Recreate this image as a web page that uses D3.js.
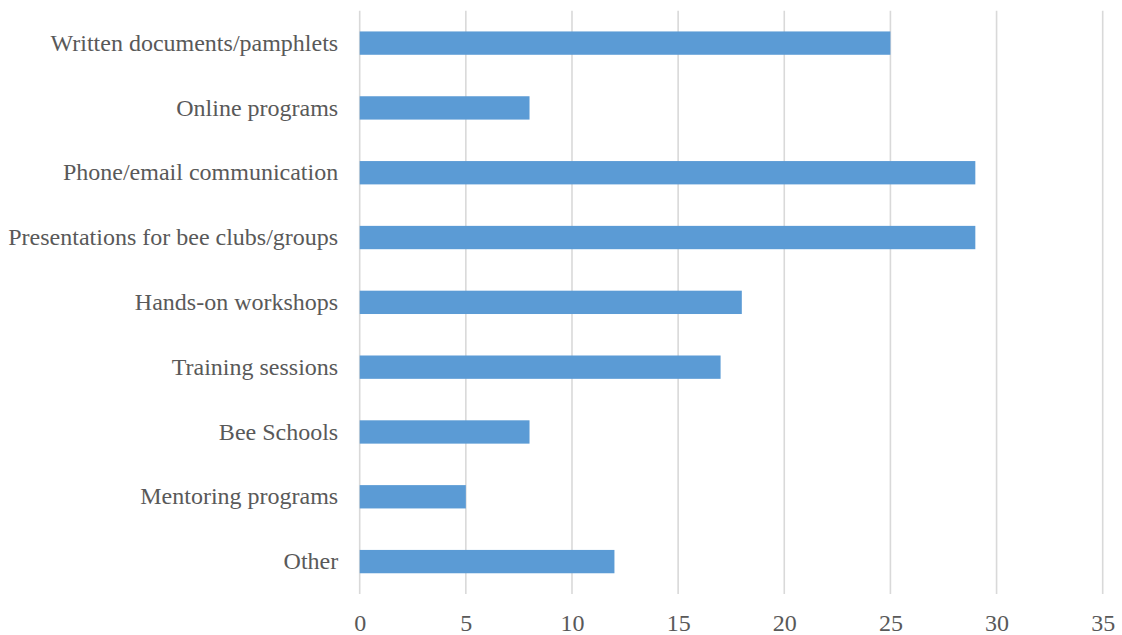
<!DOCTYPE html>
<html><head><meta charset="utf-8">
<script src="https://cdn.jsdelivr.net/npm/d3@7"></script>
<style>body{margin:0;background:#fff;} svg{display:block;} svg text{font-family:"Liberation Serif","Times New Roman","DejaVu Serif",serif !important;}</style>
</head><body>
<svg id="c" width="1122" height="635"></svg>
<script>
const categories = ["Written documents/pamphlets","Online programs","Phone/email communication","Presentations for bee clubs/groups","Hands-on workshops","Training sessions","Bee Schools","Mentoring programs","Other"];
const values = [25, 8, 29, 29, 18, 17, 8, 5, 12];
const xTicks = [0, 5, 10, 15, 20, 25, 30, 35];

(function () {
const svg = d3.select("#c");
const mLeft = 359.7, mRight = 1102.7, mTop = 10.7, mBottom = 594;
const x = d3.scaleLinear().domain([0, 35]).range([mLeft, mRight]);
const y = d3.scaleBand().domain(categories).range([mTop, mBottom]).paddingInner(0.64).paddingOuter(0.32);

const grid = svg.append("g");
grid.selectAll("line").data(xTicks).join("line")
  .attr("x1", d => x(d)).attr("x2", d => x(d))
  .attr("y1", mTop).attr("y2", mBottom)
  .attr("stroke", "#d9d9d9").attr("stroke-width", 1.6);

svg.append("g").selectAll("rect").data(values).join("rect")
  .attr("x", x(0)).attr("y", (d, i) => y(categories[i]))
  .attr("width", d => x(d) - x(0)).attr("height", y.bandwidth())
  .attr("fill", "#5b9bd5");

const xAxis = svg.append("g").attr("transform", `translate(0,${mBottom})`)
  .call(d3.axisBottom(x).tickValues(xTicks).tickSize(0).tickPadding(20));
xAxis.select(".domain").remove();
xAxis.selectAll("text").attr("font-size", 24).attr("fill", "#595959");

const yAxis = svg.append("g").attr("transform", `translate(${mLeft},0)`)
  .call(d3.axisLeft(y).tickSize(0).tickPadding(21.5));
yAxis.select(".domain").remove();
yAxis.selectAll("text").attr("font-size", 24).attr("fill", "#595959");
})();
</script>
</body></html>
